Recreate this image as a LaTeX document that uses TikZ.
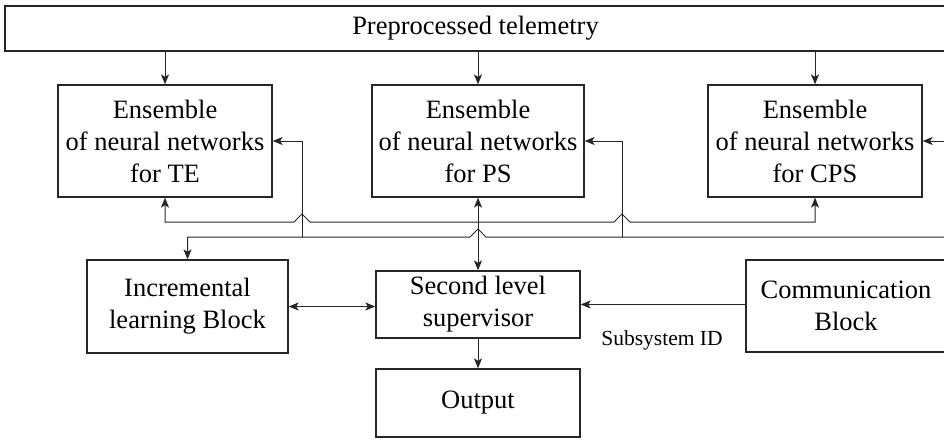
\documentclass[tikz,border=0pt]{standalone}
\usepackage{fontspec}
\setmainfont{Liberation Serif}
\usetikzlibrary{arrows.meta}
\begin{document}
\begin{tikzpicture}[x=1pt,y=-1pt,
  box/.style={draw=black!85, line width=1.3pt, inner sep=0pt, align=center, font=\fontsize{26.5}{32}\selectfont},
  conn/.style={line width=1pt, draw=black!85},
  tip/.tip={Stealth[length=10pt,width=8pt,inset=2.5pt]},
  arr/.style={conn, -tip},
  barr/.style={conn, tip-tip},
  lbl/.style={inner sep=0pt, font=\fontsize{21.5}{26}\selectfont}
]
\useasboundingbox (0,0) rectangle (944,441);
% nodes
\node[box, minimum width=941pt, minimum height=45pt] (top) at (475.5,28.5) {Preprocessed telemetry};
\node[box, minimum width=214pt, minimum height=112pt] (te) at (165,141) {Ensemble\\of neural networks\\for TE};
\node[box, minimum width=212pt, minimum height=112pt] (ps) at (478,141) {Ensemble\\of neural networks\\for PS};
\node[box, minimum width=214pt, minimum height=112pt] (cps) at (815,141) {Ensemble\\of neural networks\\for CPS};
\node[box, minimum width=201pt, minimum height=93pt] (inc) at (187.5,306.5) {Incremental\\learning Block};
\node[box, minimum width=204pt, minimum height=67pt] (sup) at (478,304.5) {Second level\\supervisor};
\node[box, minimum width=204pt, minimum height=68pt] (out) at (478,403) {Output};
\node[box, minimum width=200pt, minimum height=92pt] (com) at (846,306) {Communication\\Block};
\node[lbl] (sid) at (662,340) {Subsystem ID};
% top arrows
\draw[arr] (te.north |- top.south) -- (te.north);
\draw[arr] (ps.north |- top.south) -- (ps.north);
\draw[arr] (cps.north |- top.south) -- (cps.north);
% upper bus (y=222)
\coordinate (ub) at (478,222);
\draw[arr] (ub) -- (310,222) -- (302,214) -- (294,222) -- (te.south |- ub) -- (te.south);
\draw[arr] (ub) -- (614,222) -- (622,214) -- (630,222) -- (cps.south |- ub) -- (cps.south);
\draw[barr] (ps.south) -- (sup.north);
% lower bus (y=237)
\coordinate (lb) at (944,237);
\draw[arr] (lb) -- (486,237) -- (478,229) -- (470,237) -- (inc.north |- lb) -- (inc.north);
\coordinate (v1) at (302,237);
\coordinate (v2) at (622,237);
\draw[arr] (v1) -- (v1 |- te.east) -- (te.east);
\draw[arr] (v2) -- (v2 |- ps.east) -- (ps.east);
\coordinate (rc) at (944,141);
\draw[arr] (rc) -- (cps.east);
% lower row
\draw[barr] (inc.east) -- (inc.east -| sup.west);
\draw[arr] (com.west |- sup.east) -- (sup.east);
\draw[arr] (sup.south) -- (out.north);
\end{tikzpicture}
\end{document}
